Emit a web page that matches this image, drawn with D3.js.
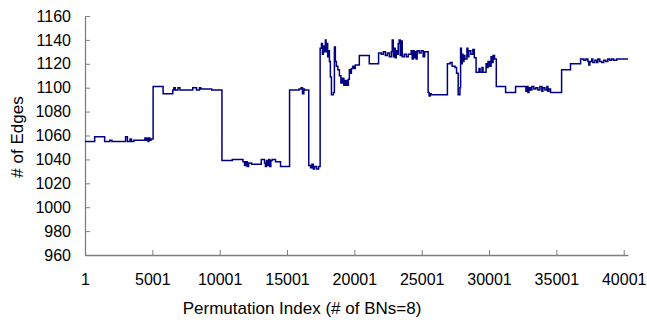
<!DOCTYPE html>
<html>
<head>
<meta charset="utf-8">
<script src="https://cdn.jsdelivr.net/npm/d3@7"></script>
<style>
  html, body { margin: 0; padding: 0; background: #fff; }
  svg { display: block; }
  text { font-family: "Liberation Sans", Arial, sans-serif; }
</style>
</head>
<body>
<script>
// Step series: permutation index where each value begins, and the # of edges
const stepStart = [
  1, 720, 1460, 1850, 2000, 3015, 3150, 3350, 3450, 3630,
  4450, 4520, 4600, 4680, 4750, 4820, 4900, 5060, 5800, 6520,
  6600, 6700, 6900, 7050, 8000, 8280, 8500, 8600, 9410, 10170,
  10940, 11730, 11850, 11950, 12050, 12150, 12370, 13090, 13330, 13400,
  13480, 13560, 13640, 13720, 13800, 13900, 14150, 14520, 15190, 15900,
  16050, 16150, 16250, 16300, 16615, 16750, 16850, 16950, 17050, 17200,
  17350, 17460, 17560, 17630, 17700, 17780, 17850, 17900, 17960, 18020,
  18075, 18150, 18220, 18300, 18445, 18520, 18590, 18665, 18775, 18890,
  19000, 19110, 19220, 19330, 19440, 19555, 19630, 19700, 19780, 19890,
  20000, 20075, 20370, 21110, 21800, 22000, 22150, 22300, 22445, 22595,
  22740, 22815, 22890, 22960, 23035, 23110, 23180, 23260, 23330, 23405,
  23480, 23555, 23700, 23850, 24000, 24220, 24295, 24370, 24440, 24520,
  24590, 24665, 24815, 24960, 25110, 25220, 25480, 25555, 25630, 25700,
  26910, 27110, 27260, 27480, 27590, 27710, 27840, 27890, 27950, 28010,
  28060, 28140, 28210, 28360, 28430, 28500, 28650, 28800, 28910, 29040,
  29260, 29335, 29480, 29555, 29780, 29850, 29925, 30040, 30150, 30225,
  30300, 30410, 30540, 31230, 31970, 32740, 32815, 32890, 32965, 33075,
  33185, 33330, 33480, 33630, 33780, 33925, 34000, 34150, 34295, 34370,
  34445, 34570, 35390, 36050, 36800, 37040, 37190, 37340, 37410, 37490,
  37630, 37710, 37860, 38000, 38080, 38225, 38370, 38520, 38670, 38820,
  38965, 39110, 39260, 39480
];
const edges = [
  1055, 1059, 1055, 1056, 1055, 1059, 1055, 1057, 1055, 1056,
  1058, 1056, 1058, 1055, 1058, 1056, 1057, 1101, 1095, 1098,
  1100, 1098, 1100, 1098, 1100, 1098, 1100, 1099, 1098, 1039,
  1040, 1038, 1035, 1038, 1034, 1037, 1036, 1040, 1037, 1034,
  1039, 1035, 1040, 1034, 1039, 1040, 1038, 1034, 1098, 1099,
  1100, 1095, 1099, 1098, 1035, 1033, 1036, 1032, 1034, 1032,
  1034, 1133, 1137, 1128, 1135, 1130, 1140, 1130, 1137, 1126,
  1131, 1122, 1109, 1094, 1096, 1134, 1122, 1118, 1115, 1110,
  1104, 1108, 1102, 1106, 1102, 1107, 1115, 1112, 1116, 1118,
  1116, 1119, 1127, 1120, 1129, 1128, 1130, 1127, 1129, 1126,
  1130, 1140, 1126, 1133, 1125, 1131, 1128, 1137, 1140, 1127,
  1139, 1126, 1128, 1126, 1128, 1131, 1124, 1131, 1125, 1130,
  1124, 1131, 1129, 1131, 1126, 1130, 1096, 1093, 1095, 1094,
  1120, 1121, 1118, 1117, 1112, 1094, 1100, 1133, 1120, 1128,
  1122, 1127, 1124, 1133, 1126, 1131, 1128, 1132, 1125, 1113,
  1116, 1113, 1117, 1113, 1120, 1117, 1122, 1118, 1126, 1121,
  1127, 1124, 1101, 1096, 1101, 1097, 1101, 1096, 1100, 1098,
  1101, 1099, 1100, 1098, 1101, 1097, 1100, 1098, 1101, 1097,
  1099, 1096, 1115, 1120, 1124, 1123, 1124, 1122, 1119, 1122,
  1124, 1121, 1123, 1121, 1124, 1122, 1121, 1123, 1122, 1124,
  1123, 1124, 1123, 1124
];
const lastIndex = 40320;
const xTicks = [1, 5001, 10001, 15001, 20001, 25001, 30001, 35001, 40001];
const yTicks = [960, 980, 1000, 1020, 1040, 1060, 1080, 1100, 1120, 1140, 1160];
const xTitle = "Permutation Index (# of BNs=8)";
const yTitle = "# of Edges";

const W = 647, H = 320;
const mLeft = 85, mRight = 628, mTop = 16, mBottom = 255;

const svg = d3.select("body").append("svg").attr("width", W).attr("height", H);

const x = d3.scaleLinear().domain([1, lastIndex]).range([mLeft, mRight]);
const y = d3.scaleLinear().domain([960, 1160]).range([mBottom, mTop]);

const pts = stepStart.map((s, i) => [s, edges[i]]);
pts.push([lastIndex, edges[edges.length - 1]]);

const axisColor = "#808080";

// Y axis (ticks inside)
const gy = svg.append("g").attr("transform", `translate(${mLeft},0)`)
  .call(d3.axisLeft(y).tickValues(yTicks).tickSize(-5).tickSizeOuter(0).tickPadding(14).tickFormat(d3.format("d")));
gy.select(".domain").attr("stroke", axisColor).attr("stroke-width", 1.3);
gy.selectAll(".tick line").attr("stroke", axisColor);
gy.selectAll(".tick text").attr("font-size", 16).attr("fill", "#000")
  .attr("font-family", "Liberation Sans, Arial, sans-serif");

// X axis (ticks inside)
const gx = svg.append("g").attr("transform", `translate(0,${mBottom})`)
  .call(d3.axisBottom(x).tickValues(xTicks).tickSize(-5).tickSizeOuter(0).tickPadding(19).tickFormat(d3.format("d")));
gx.select(".domain").attr("stroke", axisColor).attr("stroke-width", 1.3);
gx.selectAll(".tick line").attr("stroke", axisColor);
gx.selectAll(".tick text").attr("font-size", 16).attr("fill", "#000")
  .attr("font-family", "Liberation Sans, Arial, sans-serif");

// Series line
svg.append("path")
  .datum(pts)
  .attr("fill", "none")
  .attr("stroke", "#000080")
  .attr("stroke-width", 1.5)
  .attr("d", d3.line().x(d => x(d[0])).y(d => y(d[1])).curve(d3.curveStepAfter));

// Titles
svg.append("text").attr("x", 302).attr("y", 314).attr("text-anchor", "middle")
  .attr("font-size", 17).attr("fill", "#000").text(xTitle);
svg.append("text").attr("transform", "translate(23,137) rotate(-90)").attr("text-anchor", "middle")
  .attr("font-size", 17).attr("fill", "#000").text(yTitle);
</script>
</body>
</html>
